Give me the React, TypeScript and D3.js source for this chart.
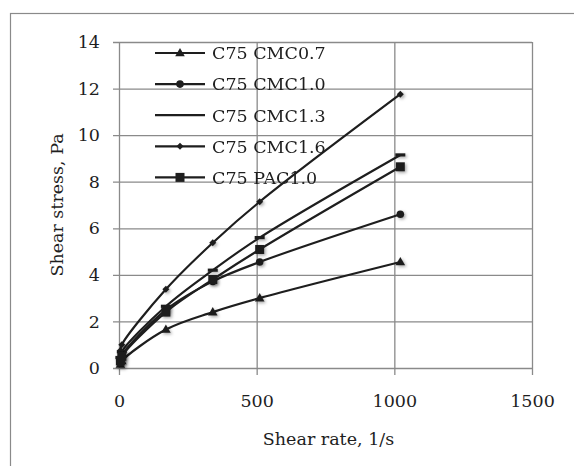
import { useEffect, useRef } from "react";
import * as d3 from "d3";

// shear rates of the viscometer readings (3, 6, 100, 200, 300, 600 rpm)
const shearRate = [5.1, 10.2, 170.3, 340.6, 510.9, 1021.8];

const cmc07 = [0.15, 0.3, 1.65, 2.4, 3.0, 4.55];
const cmc10 = [0.35, 0.55, 2.5, 3.72, 4.55, 6.6];
const cmc13 = [0.45, 0.7, 2.65, 4.2, 5.6, 9.15];
const cmc16 = [0.75, 1.0, 3.38, 5.38, 7.14, 11.76];
const pac10 = [0.3, 0.5, 2.4, 3.8, 5.09, 8.64];

const seriesNames = ["C75 CMC0.7", "C75 CMC1.0", "C75 CMC1.3", "C75 CMC1.6", "C75 PAC1.0"];
const seriesValues = [cmc07, cmc10, cmc13, cmc16, pac10];
const seriesMarkers = ["triangle", "circle", "dash", "diamond", "square"];

const xTicks = [0, 500, 1000, 1500];
const yTicks = [0, 2, 4, 6, 8, 10, 12, 14];

const FONT = "'DejaVu Serif', serif";
const GRID = "#8a8a8a";
const INK = "#1e1e1e";

function drawMarker(g, type, cx, cy) {
  if (type === "circle") {
    g.append("circle").attr("cx", cx).attr("cy", cy).attr("r", 3.8).attr("fill", INK);
  } else if (type === "square") {
    g.append("rect").attr("x", cx - 4.5).attr("y", cy - 4.5).attr("width", 9).attr("height", 9).attr("fill", INK);
  } else if (type === "triangle") {
    g.append("path")
      .attr("d", d3.symbol(d3.symbolTriangle, 40)())
      .attr("transform", `translate(${cx},${cy + 0.5})`)
      .attr("fill", INK);
  } else if (type === "diamond") {
    g.append("path")
      .attr("d", `M${cx},${cy - 3.5}L${cx + 3.5},${cy}L${cx},${cy + 3.5}L${cx - 3.5},${cy}Z`)
      .attr("fill", INK);
  } else if (type === "dash") {
    g.append("rect").attr("x", cx - 5).attr("y", cy - 1.6).attr("width", 10).attr("height", 3.2).attr("fill", INK);
  }
}

export default function App() {
  const ref = useRef(null);

  useEffect(() => {
    document.body.style.margin = "0";
    const width = 574;
    const height = 466;
    const margin = { top: 42, right: 42, bottom: 98, left: 119 };

    const svg = d3.select(ref.current);
    svg.selectAll("*").remove();
    svg.attr("viewBox", `0 0 ${width} ${height}`);

    const defs = svg.append("defs");
    defs
      .append("filter")
      .attr("id", "mshadow")
      .attr("x", "-100%")
      .attr("y", "-100%")
      .attr("width", "300%")
      .attr("height", "300%")
      .append("feDropShadow")
      .attr("dx", 1.5)
      .attr("dy", 1.5)
      .attr("stdDeviation", 1.6)
      .attr("flood-color", "#000")
      .attr("flood-opacity", 0.35);

    svg.append("rect").attr("width", width).attr("height", height).attr("fill", "#fff");

    // outer chart frame
    svg
      .append("rect")
      .attr("x", 10.5)
      .attr("y", 13.5)
      .attr("width", width + 20)
      .attr("height", height + 20)
      .attr("fill", "none")
      .attr("stroke", GRID)
      .attr("stroke-width", 1.2);

    const x = d3
      .scaleLinear()
      .domain([0, 1500])
      .range([margin.left, width - margin.right]);

    const y = d3
      .scaleLinear()
      .domain([0, 14])
      .range([height - margin.bottom, margin.top]);

    // horizontal grid + y ticks
    svg
      .append("g")
      .attr("transform", `translate(${margin.left},0)`)
      .call(d3.axisLeft(y).tickValues(yTicks).tickSize(-(width - margin.right - margin.left)).tickPadding(19))
      .call((g) => g.select(".domain").remove())
      .call((g) => g.selectAll("line").attr("stroke", GRID).attr("stroke-width", 1.3).attr("x1", -6))
      .call((g) =>
        g.selectAll("text").attr("fill", INK).style("font-family", FONT).style("font-size", "17.5px")
      );

    // vertical grid + x ticks
    svg
      .append("g")
      .attr("transform", `translate(0,${height - margin.bottom})`)
      .call(
        d3
          .axisBottom(x)
          .tickValues(xTicks)
          .tickFormat(d3.format("d"))
          .tickSize(-(height - margin.top - margin.bottom))
          .tickPadding(27)
      )
      .call((g) => g.select(".domain").remove())
      .call((g) => g.selectAll("line").attr("stroke", GRID).attr("stroke-width", 1.3).attr("y1", 7))
      .call((g) =>
        g.selectAll("text").attr("fill", INK).style("font-family", FONT).style("font-size", "17.5px")
      );

    // axis titles
    svg
      .append("text")
      .attr("x", (margin.left + width - margin.right) / 2 + 3)
      .attr("y", 445)
      .attr("text-anchor", "middle")
      .attr("fill", INK)
      .style("font-family", FONT)
      .style("font-size", "17.5px")
      .text("Shear rate, 1/s");

    svg
      .append("text")
      .attr("transform", `translate(63,${(margin.top + height - margin.bottom) / 2}) rotate(-90)`)
      .attr("text-anchor", "middle")
      .attr("fill", INK)
      .style("font-family", FONT)
      .style("font-size", "17.5px")
      .text("Shear stress, Pa");

    const line = d3
      .line()
      .x((d) => x(d[0]))
      .y((d) => y(d[1]))
      .curve(d3.curveCatmullRom.alpha(0.5));

    seriesValues.forEach((vals, i) => {
      const pts = shearRate.map((r, j) => [r, vals[j]]);
      svg
        .append("path")
        .datum(pts)
        .attr("d", line)
        .attr("fill", "none")
        .attr("stroke", INK)
        .attr("stroke-width", 2.2);
      const mg = svg.append("g").attr("filter", "url(#mshadow)");
      pts.forEach((p) => drawMarker(mg, seriesMarkers[i], x(p[0]), y(p[1])));
    });

    // legend (no background, sits over the grid)
    const legend = svg.append("g");
    seriesNames.forEach((name, i) => {
      const ly = 53 + i * 31.1;
      legend
        .append("line")
        .attr("x1", 155)
        .attr("x2", 205)
        .attr("y1", ly)
        .attr("y2", ly)
        .attr("stroke", INK)
        .attr("stroke-width", 2.2);
      if (seriesMarkers[i] !== "dash") drawMarker(legend, seriesMarkers[i], 180, ly);
      legend
        .append("text")
        .attr("x", 212)
        .attr("y", ly)
        .attr("dy", "0.36em")
        .attr("fill", INK)
        .style("font-family", FONT)
        .style("font-size", "17.5px")
        .text(name);
    });
  }, []);

  return <svg ref={ref} width={574} height={466} style={{ display: "block" }} />;
}
